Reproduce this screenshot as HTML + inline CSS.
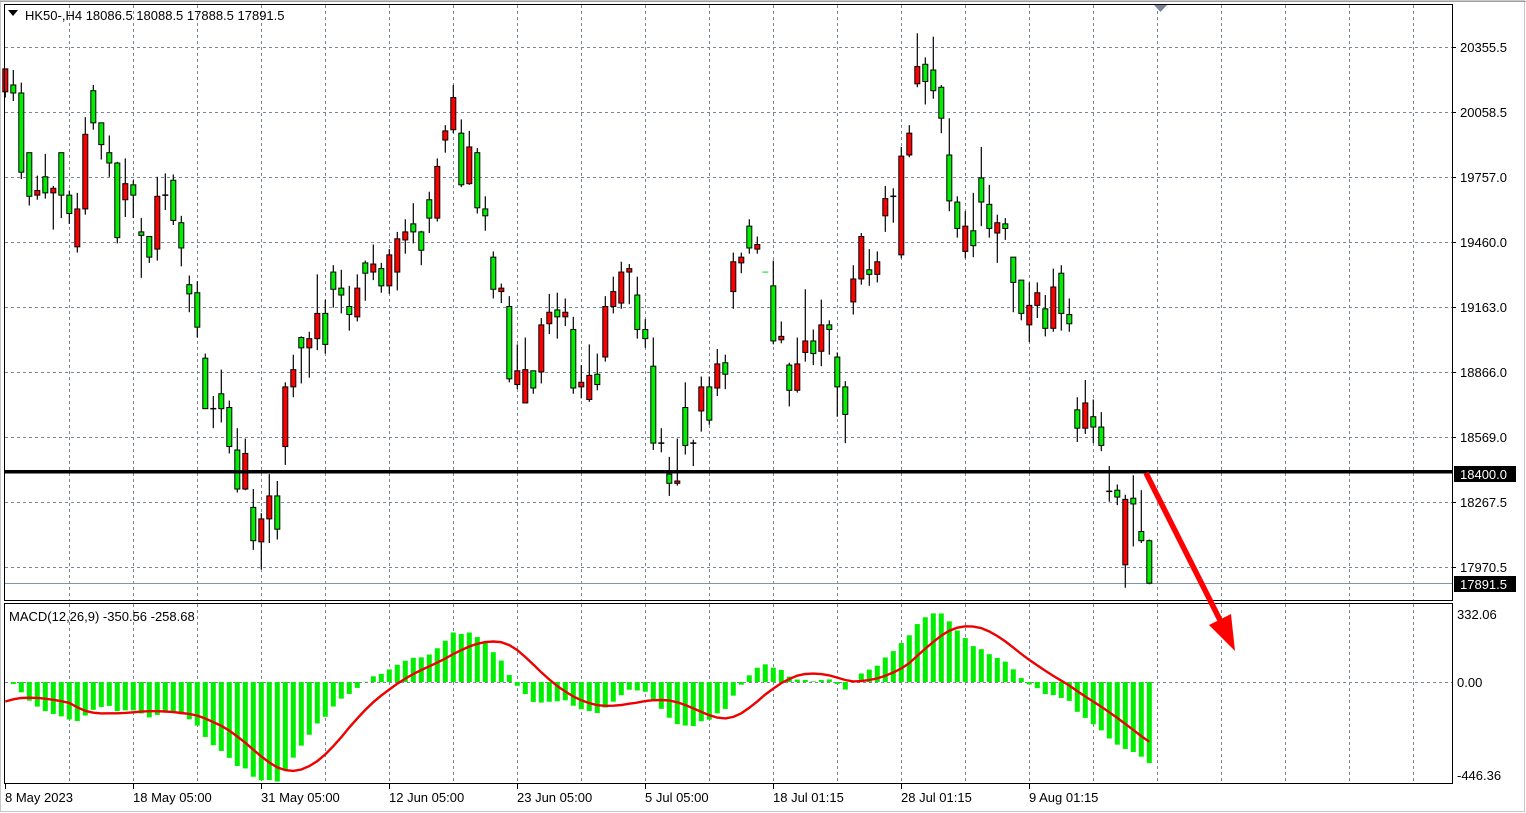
<!DOCTYPE html>
<html><head><meta charset="utf-8"><style>
html,body{margin:0;padding:0;background:#fff;}
svg{display:block;}
text{font-family:"Liberation Sans","DejaVu Sans",sans-serif;font-size:13px;fill:#000;}
</style></head><body>
<svg id="c" width="1526" height="813" xmlns="http://www.w3.org/2000/svg"></svg>
<script>
const D=`60,60,80,85,r;61,74,81,88,g;72,81,150,156,g;133,133,171,179,g;153,166,170,174,r;134,154,168,173,g;162,164,168,200,r;133,133,170,190,g;166,170,186,195,g;168,182,215,220,r;102,117,182,187,r;74,79,107,113,g;107,107,126,139,g;118,133,142,154,g;141,142,207,212,g;138,160,174,189,r;157,161,170,190,g;190,202,205,242,g;206,206,224,229,g;154,171,217,227,r;151,170,171,183,r;152,157,192,196,g;188,194,216,232,g;240,248,256,272,g;245,255,285,294,g;308,312,356,356,g;345,356,356,373,r;322,343,356,368,g;349,355,389,395,g;373,392,426,429,g;382,395,426,427,r;426,442,471,479,g;447,452,472,496,r;413,432,452,473,r;419,432,461,470,g;333,337,389,405,r;309,322,337,346,r;293,294,303,334,g;289,295,303,329,r;239,273,295,305,r;261,273,300,308,g;231,237,252,268,g;235,251,257,273,g;249,267,274,288,g;239,251,276,280,r;227,229,238,262,g;213,230,237,244,r;229,234,249,255,g;217,222,249,256,r;202,208,237,253,r;191,202,209,221,r;177,195,202,212,g;201,202,218,231,g;167,174,190,203,g;138,145,190,193,r;109,114,122,133,r;74,85,113,116,r;104,116,161,163,g;114,128,160,161,r;129,133,181,186,g;171,182,188,201,g;219,224,252,260,g;247,251,254,264,r;258,267,330,333,g;300,323,335,339,r;294,322,351,351,r;323,323,338,343,g;277,283,324,334,r;256,272,282,291,r;255,270,276,295,g;260,272,276,284,r;276,287,338,343,g;318,333,337,347,r;300,327,348,350,r;308,326,335,340,g;258,267,311,315,r;241,254,267,273,r;228,237,264,269,r;230,234,237,265,r;241,257,287,295,g;278,287,295,303,g;294,319,386,392,g;373,386,386,394,r;398,413,421,432,g;382,419,421,423,r;333,355,388,396,g;383,386,386,406,r;328,337,358,376,r;328,337,366,370,g;304,317,338,345,r;309,316,326,339,g;220,228,254,269,r;220,224,229,238,r;191,197,216,221,g;206,213,217,221,r;237,237,237.5,237.5,x;227,249,297,300,g;280,293,296,299,r;316,318,340,354,g;294,317,340,342,r;252,297,307,315,r;287,297,308,318,g;261,283,306,319,r;279,283,287,309,g;307,311,337,363,g;332,337,361,386,g;231,243,263,274,r;203,206,243,248,r;217,235,239,249,g;219,228,239,246,r;162,173,188,202,r;164,171,171,194,r;128,136,222,225,r;109,116,135,137,r;29,58,73,76,r;50,56,71,91,g;32,61,79,86,g;74,76,103,116,g;103,135,175,184,g;171,176,199,207,g;184,197,219,225,r;168,201,214,224,g;128,155,176,197,g;161,178,199,207,g;187,194,203,229,r;190,195,199,209,g;224,224,246,272,g;244,244,273,279,g;246,266,283,298,r;246,255,266,277,r;257,269,286,293,g;234,250,286,289,r;231,238,273,288,g;260,274,282,289,g`;
const K=3/2.6133;
const rows=D.split(';').map(s=>{const p=s.split(',');return {wt:+p[0]*K,bt:+p[1]*K,bb:+p[2]*K,wb:+p[3]*K,c:p[4]};});
const extra=[[346,357,373,385,'g'],[331,351,373,378,'r'],[348,363,372,386,'g'],[359,372,388,393,'g'],[406,428,428,437,'r'],[422,427,433,440,'g'],[431,435,492,512,'r'],[414,434,439,476,'g'],[427,463,471,473,'g'],[470,471,508,509,'g']];
extra.forEach(e=>rows.push({wt:e[0]*K,bt:e[1]*K,bb:e[2]*K,wb:e[3]*K,c:e[4]}));
let s='';
const gc='#7a8696';
s+='<rect x="0.5" y="0.5" width="1524" height="811" fill="none" stroke="#c8c8c8"/>';
for(let x=69;x<1452;x+=64){
 s+=`<line x1="${x+.5}" y1="5" x2="${x+.5}" y2="600" stroke="${gc}" stroke-dasharray="3,3"/>`;
 s+=`<line x1="${x+.5}" y1="604" x2="${x+.5}" y2="783" stroke="${gc}" stroke-dasharray="3,3"/>`;
}
const labs=[['20355.5',47],['20058.5',112],['19757.0',177],['19460.0',242],['19163.0',307],['18866.0',372],['18569.0',437],['18267.5',502],['17970.5',567]];
labs.forEach(([t,y])=>{
 s+=`<line x1="5" y1="${y+.5}" x2="1452" y2="${y+.5}" stroke="${gc}" stroke-dasharray="3,3"/>`;
 s+=`<line x1="1452" y1="${y+.5}" x2="1456" y2="${y+.5}" stroke="#000"/>`;
 s+=`<text x="1460" y="${y+5}">${t}</text>`;
});
s+=`<line x1="5" y1="682.5" x2="1452" y2="682.5" stroke="${gc}" stroke-dasharray="3,3"/>`;
s+=`<line x1="5" y1="583.5" x2="1452" y2="583.5" stroke="#8494a8"/>`;
const P=y=>20355.5-(y-47)/0.21803;
const cl=rows.map(r=>P(r.c==='r'?r.bt:r.bb));
let e12=cl[0],e26=cl[0];const a12=2/13,a26=2/27;const m=[];
cl.forEach(c=>{e12+=a12*(c-e12);e26+=a26*(c-e26);m.push(e12-e26);});
const f=-350.56/m[m.length-1];
const mm=m.map(v=>v*f);
const sig=mm.map((v,i)=>{let sum=0;for(let k=i-8;k<=i;k++){sum+=(k<0?-95:mm[k]);}return sum/9;});
const MY=v=>682-v*0.2312;
mm.forEach((v,i)=>{const x=5.3+8*i;const y=MY(v);s+=`<rect x="${x-2.5}" y="${Math.min(y,682)}" width="5" height="${Math.abs(y-682)}" fill="#00ee00"/>`;});
s+=`<polyline fill="none" stroke="#ee0000" stroke-width="2.4" points="${sig.map((v,i)=>(5.3+8*i).toFixed(1)+','+MY(v).toFixed(1)).join(' ')}"/>`;
rows.forEach((r,i)=>{const x=5.3+8*i;
 if(r.c==='x'){s+=`<line x1="${x-3}" y1="${r.bt}" x2="${x+3}" y2="${r.bt}" stroke="#00dd00"/>`;return;}
 s+=`<line x1="${x}" y1="${r.wt}" x2="${x}" y2="${r.wb}" stroke="#000" stroke-width="1.2"/>`;
 const h=Math.max(r.bb-r.bt,1);
 if(h<=1.5) s+=`<line x1="${x-3}" y1="${r.bt}" x2="${x+3}" y2="${r.bt}" stroke="#000" stroke-width="1.5"/>`;
 else s+=`<rect x="${x-2.5}" y="${r.bt}" width="5" height="${h}" fill="${r.c==='r'?'#ff0000':'#00ee00'}" stroke="#000" stroke-width="1"/>`;
});
s+=`<rect x="5" y="470" width="1447" height="3.5" fill="#000"/>`;
s+='<rect x="4.5" y="4.5" width="1448" height="596" fill="none" stroke="#000"/>';
s+='<rect x="4.5" y="603.5" width="1448" height="180" fill="none" stroke="#000"/>';
s+='<line x1="0" y1="1.5" x2="1526" y2="1.5" stroke="#a0a0a0"/>';
s+='<rect x="1454" y="466" width="62" height="16" fill="#000"/><text x="1460" y="479" style="fill:#fff">18400.0</text>';
s+='<rect x="1454" y="576" width="62" height="16" fill="#000"/><text x="1460" y="589" style="fill:#fff">17891.5</text>';
s+='<text x="1457" y="619">332.06</text><text x="1457" y="687">0.00</text><text x="1457" y="780">-446.36</text>';
s+='<polygon points="1154,5 1167,5 1160.5,12" fill="#7a8696"/>';
s+='<polygon points="8,10 18,10 13,16" fill="#000"/><text x="25" y="20">HK50-,H4  18086.5 18088.5 17888.5 17891.5</text>';
s+='<text x="9" y="621">MACD(12,26,9) -350.56 -258.68</text>';
const dl=[['8 May 2023',5],['18 May 05:00',133],['31 May 05:00',261],['12 Jun 05:00',389],['23 Jun 05:00',517],['5 Jul 05:00',645],['18 Jul 01:15',773],['28 Jul 01:15',901],['9 Aug 01:15',1029]];
dl.forEach(([t,x])=>{s+=`<line x1="${x+.5}" y1="784" x2="${x+.5}" y2="789" stroke="#000"/><text x="${x}" y="802">${t}</text>`;});
s+='<line x1="1146" y1="473" x2="1222" y2="624" stroke="#ff0000" stroke-width="5.5"/>';
s+='<polygon points="1209,625 1231,614 1235,651" fill="#ff0000"/>';
document.getElementById('c').innerHTML=s;
</script>
</body></html>
